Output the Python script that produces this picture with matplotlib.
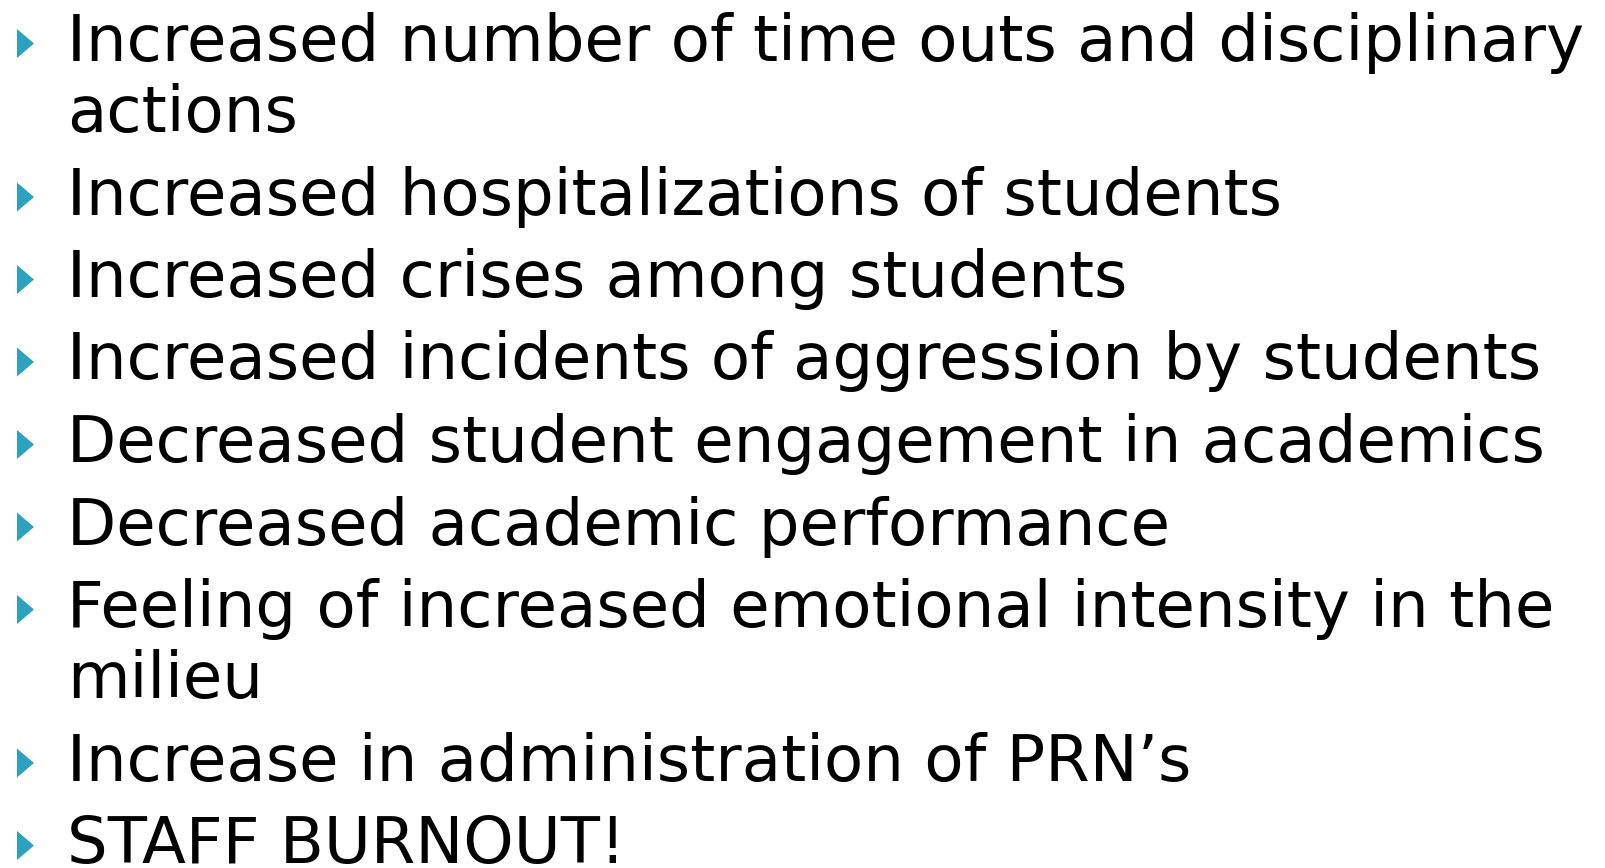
import matplotlib
matplotlib.use("Agg")
import matplotlib.pyplot as plt
from matplotlib.patches import Polygon

# each bullet, split where the slide wraps it
items = [
    ["Increased number of time outs and disciplinary", "actions"],
    ["Increased hospitalizations of students"],
    ["Increased crises among students"],
    ["Increased incidents of aggression by students"],
    ["Decreased student engagement in academics"],
    ["Decreased academic performance"],
    ["Feeling of increased emotional intensity in the", "milieu"],
    ["Increase in administration of PRN\u2019s"],
    ["STAFF BURNOUT!"],
]

bullet_color = "#2DA2C0"
text_x = 67
first_base = 61
wrap_gap = 71
item_gap = 82.5

fig = plt.figure(figsize=(16.06, 8.68), dpi=100)
ax = fig.add_axes([0, 0, 1, 1])
ax.set_xlim(0, 1606)
ax.set_ylim(868, 0)
ax.axis("off")

y = first_base
for i, lines in enumerate(items):
    if i > 0:
        y += item_gap
    # bullet triangle
    tri = Polygon([[17, y - 32], [34, y - 17.5], [17, y - 3]], closed=True,
                  facecolor=bullet_color, edgecolor="none")
    ax.add_patch(tri)
    for j, line in enumerate(lines):
        if j > 0:
            y += wrap_gap
        ax.text(text_x, y, line, fontsize=46.2, family="DejaVu Sans",
                color="black", va="baseline", ha="left")

fig.savefig("out.png")
